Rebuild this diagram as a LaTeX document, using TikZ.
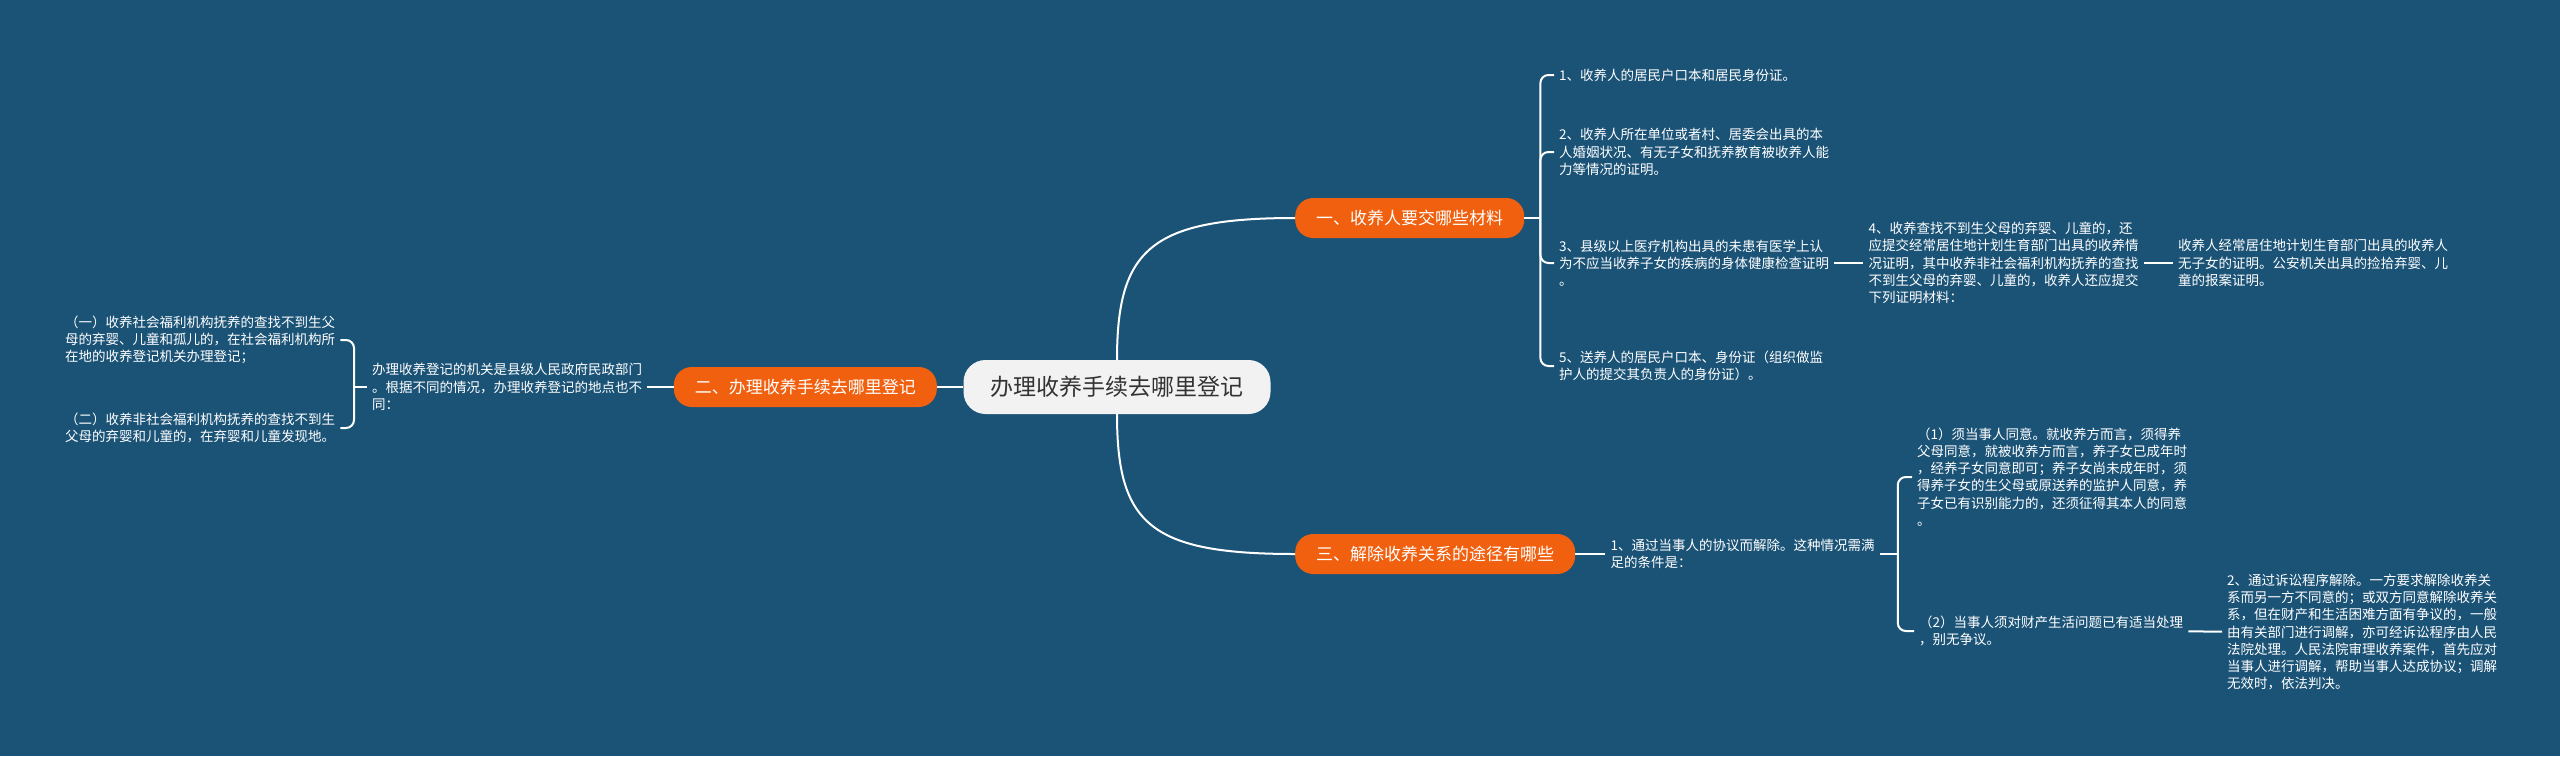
\documentclass[tikz,border=0pt]{standalone}
\usepackage{fontspec}
\setmainfont{Noto Sans CJK SC}
\usepackage{tikz}
\usetikzlibrary{positioning}

\definecolor{mapbg}{HTML}{1B5377}
\definecolor{topicorange}{HTML}{F0600F}
\definecolor{rootgray}{HTML}{F2F2F2}
\definecolor{rootink}{HTML}{333333}

\begin{document}
\begin{tikzpicture}[x=1pt, y=-1pt,
  rootbox/.style={fill=rootgray, text=rootink, rounded corners=22pt,
                  minimum width=307pt, minimum height=54pt,
                  font=\fontsize{23}{28}\selectfont},
  topicbox/.style={fill=topicorange, text=white, rounded corners=18pt,
                   minimum height=40pt, inner xsep=21pt,
                   font=\fontsize{17}{20}\selectfont},
  leafbox/.style={text=white, align=left, inner xsep=5pt, inner ysep=2pt,
                  font=\fontsize{13.5}{17.2}\selectfont},
  linkline/.style={draw=white, line width=2pt, rounded corners=8pt}
  ]

  %--- Canvas
  \fill[mapbg] (0,0) rectangle (2560,756);
  \useasboundingbox (0,0) rectangle (2560,756);

  %--- Central topic and the three main branches
  \node[rootbox] (root) at (1117,387) {办理收养手续去哪里登记};
  \node[topicbox, anchor=west] (one) at (1295,218) {一、收养人要交哪些材料};
  \node[topicbox, anchor=east] (two) at (937,387) {二、办理收养手续去哪里登记};
  \node[topicbox, anchor=west] (three) at (1295,554) {三、解除收养关系的途径有哪些};

  \draw[linkline] (root.north) .. controls (1117,250) and (1150,218) .. (one.west);
  \draw[linkline] (root.south) .. controls (1117,524) and (1150,554) .. (three.west);
  \draw[linkline] (root.west) -- (two.east);

  %--- Branch one: materials
  \node[leafbox, anchor=west] (mat1) at (1554,75) {1、收养人的居民户口本和居民身份证。};
  \node[leafbox, anchor=west] (mat2) at (1554,152) {2、收养人所在单位或者村、居委会出具的本\\人婚姻状况、有无子女和抚养教育被收养人能\\力等情况的证明。};
  \node[leafbox, anchor=west] (mat3) at (1554,263) {3、县级以上医疗机构出具的未患有医学上认\\为不应当收养子女的疾病的身体健康检查证明\\。};
  \node[leafbox, anchor=west] (mat5) at (1554,366) {5、送养人的居民户口本、身份证（组织做监\\护人的提交其负责人的身份证）。};
  \node[leafbox, right=29pt of mat3] (mat4) {4、收养查找不到生父母的弃婴、儿童的，还\\应提交经常居住地计划生育部门出具的收养情\\况证明，其中收养非社会福利机构抚养的查找\\不到生父母的弃婴、儿童的，收养人还应提交\\下列证明材料：};
  \node[leafbox, right=29pt of mat4] (mat4a) {收养人经常居住地计划生育部门出具的收养人\\无子女的证明。公安机关出具的捡拾弃婴、儿\\童的报案证明。};

  \draw[linkline] (one.east) -- ++(16,0) coordinate (forkone);
  \foreach \leaf in {mat1,mat2,mat3,mat5}
    \draw[linkline] (forkone) |- (\leaf.west);
  \draw[linkline] (mat3) -- (mat4);
  \draw[linkline] (mat4) -- (mat4a);

  %--- Branch two: where to register
  \node[leafbox, anchor=west] (place) at (367,387) {办理收养登记的机关是县级人民政府民政部门\\。根据不同的情况，办理收养登记的地点也不\\同：};
  \node[leafbox, anchor=west] (place1) at (60,340) {（一）收养社会福利机构抚养的查找不到生父\\母的弃婴、儿童和孤儿的，在社会福利机构所\\在地的收养登记机关办理登记；};
  \node[leafbox, anchor=west] (place2) at (60,428) {（二）收养非社会福利机构抚养的查找不到生\\父母的弃婴和儿童的，在弃婴和儿童发现地。};

  \draw[linkline] (two.west) -- (place.east);
  \draw[linkline] (place.west) -- ++(-13,0) coordinate (forktwo);
  \foreach \leaf in {place1,place2}
    \draw[linkline] (forktwo) |- (\leaf.east);

  %--- Branch three: ending the adoption
  \node[leafbox, right=30pt of three] (way1) {1、通过当事人的协议而解除。这种情况需满\\足的条件是：};
  \node[leafbox, anchor=west] (cond1) at (1912,477) {（1）须当事人同意。就收养方而言，须得养\\父母同意，就被收养方而言，养子女已成年时\\，经养子女同意即可；养子女尚未成年时，须\\得养子女的生父母或原送养的监护人同意，养\\子女已有识别能力的，还须征得其本人的同意\\。};
  \node[leafbox, anchor=west] (cond2) at (1914,631) {（2）当事人须对财产生活问题已有适当处理\\，别无争议。};
  \node[leafbox, anchor=west] (way2) at (2222,632) {2、通过诉讼程序解除。一方要求解除收养关\\系而另一方不同意的；或双方同意解除收养关\\系，但在财产和生活困难方面有争议的，一般\\由有关部门进行调解，亦可经诉讼程序由人民\\法院处理。人民法院审理收养案件，首先应对\\当事人进行调解，帮助当事人达成协议；调解\\无效时，依法判决。};

  \draw[linkline] (three) -- (way1);
  \draw[linkline] (way1.east) -- ++(18,0) coordinate (forkthree);
  \foreach \leaf in {cond1,cond2}
    \draw[linkline] (forkthree) |- (\leaf.west);
  \draw[linkline] (cond2) -- (way2);

\end{tikzpicture}
\end{document}
